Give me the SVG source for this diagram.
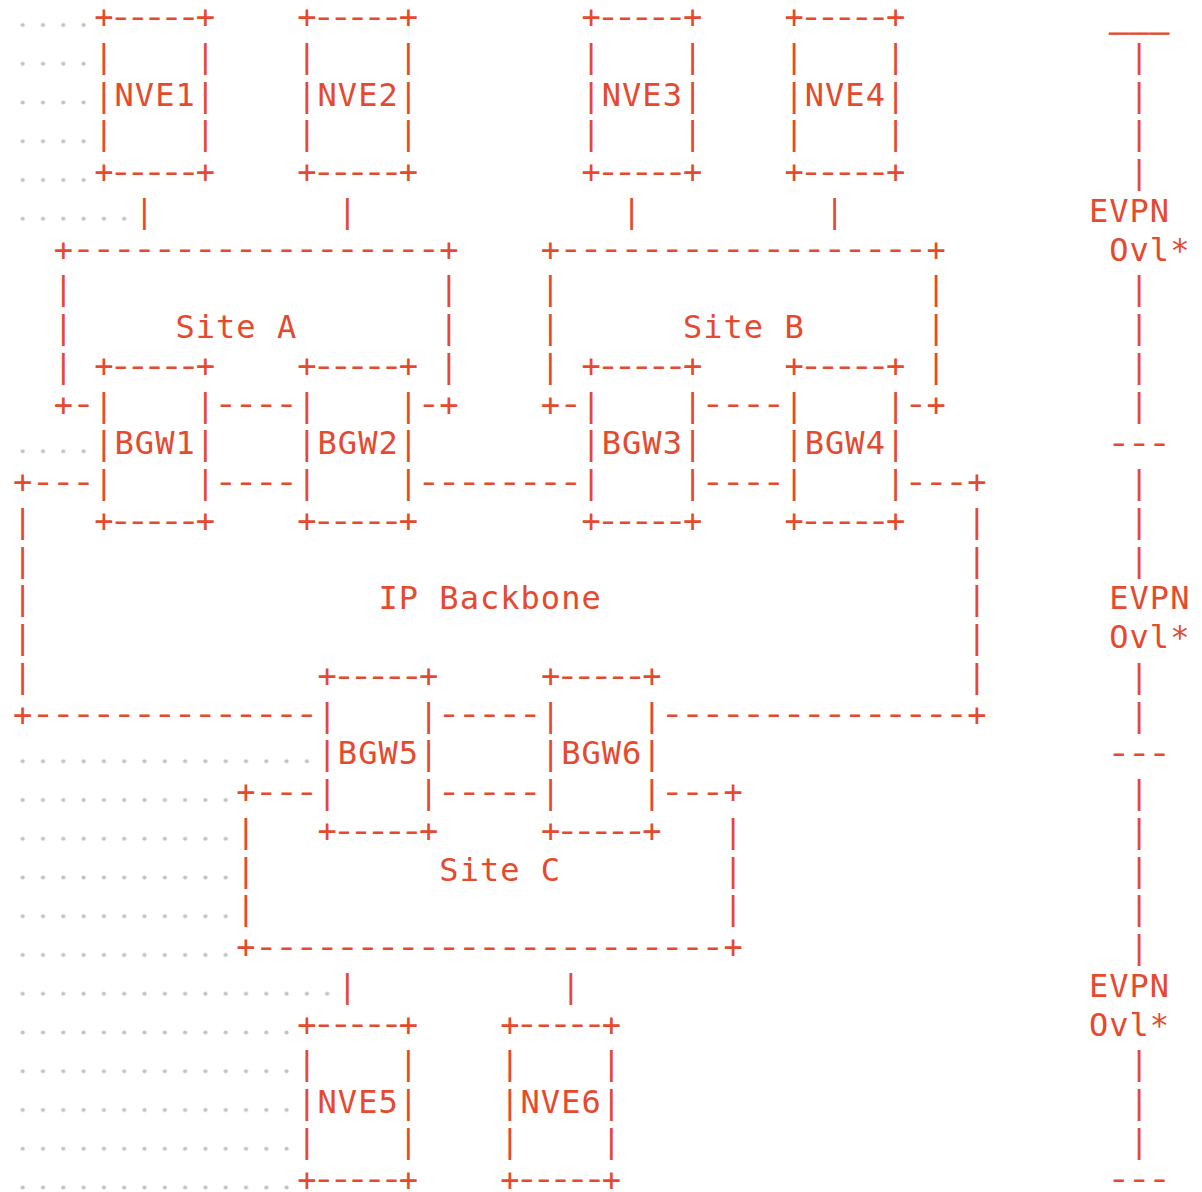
<svg xmlns="http://www.w3.org/2000/svg" width="1202" height="1192" viewBox="0 0 1202 1192">
<style>
text { font-family: "DejaVu Sans Mono", "Liberation Mono", monospace; font-size: 32px; fill: #E5492E; text-anchor: middle; }
text.u { stroke: #E5492E; stroke-width: 1; }
</style>
<defs>
<pattern id="ws" patternUnits="userSpaceOnUse" x="12.55" y="5.625" width="20.3" height="38.75">
<circle cx="10.15" cy="19.375" r="2.1" fill="#c2c2c2"/>
</pattern>
</defs>
<rect width="1202" height="1192" fill="#ffffff"/>
<g id="whitespace" fill="url(#ws)">
<rect x="12.55" y="5.625" width="81.2" height="193.75"/>
<rect x="12.55" y="199.375" width="121.8" height="38.75"/>
<rect x="12.55" y="431.875" width="81.2" height="38.75"/>
<rect x="12.55" y="741.875" width="304.5" height="38.75"/>
<rect x="12.55" y="780.625" width="223.3" height="193.75"/>
<rect x="12.55" y="974.375" width="324.8" height="38.75"/>
<rect x="12.55" y="1013.125" width="284.2" height="193.75"/>
</g>
<g id="NVE1" transform="translate(103.9,0)">
<text x="0 101.5" y="28">++</text>
<text transform="scale(1.25,1)" x="13.536 27.064 40.6 54.136 67.664" y="28">-----</text>
<text x="0 101.5 0 101.5" y="66.75 66.75 144.25 144.25">||||</text>
<text x="0 20.3 40.6 60.9 81.2 101.5" y="105.5">|NVE1|</text>
<text x="0 101.5" y="183">++</text>
<text transform="scale(1.25,1)" x="13.536 27.064 40.6 54.136 67.664" y="183">-----</text>
</g>
<g id="NVE2" transform="translate(306.9,0)">
<text x="0 101.5" y="28">++</text>
<text transform="scale(1.25,1)" x="13.536 27.064 40.6 54.136 67.664" y="28">-----</text>
<text x="0 101.5 0 101.5" y="66.75 66.75 144.25 144.25">||||</text>
<text x="0 20.3 40.6 60.9 81.2 101.5" y="105.5">|NVE2|</text>
<text x="0 101.5" y="183">++</text>
<text transform="scale(1.25,1)" x="13.536 27.064 40.6 54.136 67.664" y="183">-----</text>
</g>
<g id="NVE3" transform="translate(591.1,0)">
<text x="0 101.5" y="28">++</text>
<text transform="scale(1.25,1)" x="13.536 27.064 40.6 54.136 67.664" y="28">-----</text>
<text x="0 101.5 0 101.5" y="66.75 66.75 144.25 144.25">||||</text>
<text x="0 20.3 40.6 60.9 81.2 101.5" y="105.5">|NVE3|</text>
<text x="0 101.5" y="183">++</text>
<text transform="scale(1.25,1)" x="13.536 27.064 40.6 54.136 67.664" y="183">-----</text>
</g>
<g id="NVE4" transform="translate(794.1,0)">
<text x="0 101.5" y="28">++</text>
<text transform="scale(1.25,1)" x="13.536 27.064 40.6 54.136 67.664" y="28">-----</text>
<text x="0 101.5 0 101.5" y="66.75 66.75 144.25 144.25">||||</text>
<text x="0 20.3 40.6 60.9 81.2 101.5" y="105.5">|NVE4|</text>
<text x="0 101.5" y="183">++</text>
<text transform="scale(1.25,1)" x="13.536 27.064 40.6 54.136 67.664" y="183">-----</text>
</g>
<g id="SiteA">
<text x="63.3 449" y="260.5">++</text>
<text transform="scale(1.25,1)" x="66.88 83.12 99.36 115.6 131.84 148.08 164.32 180.56 196.8 213.04 229.28 245.52 261.76 278 294.24 310.48 326.72 342.96" y="260.5">------------------</text>
<text x="63.3 449 63.3 449 63.3 449" y="299.25 299.25 338 338 376.75 376.75">||||||</text>
<text x="185.1 205.4 225.7 246 266.3 286.6" y="338">Site A</text>
<text x="63.3 449" y="415.5">++</text>
<text transform="scale(1.25,1)" x="66.88 342.96" y="415.5">--</text>
</g>
<g id="SiteB">
<text x="550.5 936.2" y="260.5">++</text>
<text transform="scale(1.25,1)" x="456.64 472.88 489.12 505.36 521.6 537.84 554.08 570.32 586.56 602.8 619.04 635.28 651.52 667.76 684 700.24 716.48 732.72" y="260.5">------------------</text>
<text x="550.5 936.2 550.5 936.2 550.5 936.2" y="299.25 299.25 338 338 376.75 376.75">||||||</text>
<text x="692.6 712.9 733.2 753.5 773.8 794.1" y="338">Site B</text>
<text x="550.5 936.2" y="415.5">++</text>
<text transform="scale(1.25,1)" x="456.64 732.72" y="415.5">--</text>
</g>
<g id="BGW1" transform="translate(103.9,0)">
<text x="0 101.5" y="376.75">++</text>
<text transform="scale(1.25,1)" x="13.536 27.064 40.6 54.136 67.664" y="376.75">-----</text>
<text x="0 101.5 0 101.5" y="415.5 415.5 493 493">||||</text>
<text x="0 20.3 40.6 60.9 81.2 101.5" y="454.25">|BGW1|</text>
<text x="0 101.5" y="531.75">++</text>
<text transform="scale(1.25,1)" x="13.536 27.064 40.6 54.136 67.664" y="531.75">-----</text>
</g>
<g id="BGW2" transform="translate(306.9,0)">
<text x="0 101.5" y="376.75">++</text>
<text transform="scale(1.25,1)" x="13.536 27.064 40.6 54.136 67.664" y="376.75">-----</text>
<text x="0 101.5 0 101.5" y="415.5 415.5 493 493">||||</text>
<text x="0 20.3 40.6 60.9 81.2 101.5" y="454.25">|BGW2|</text>
<text x="0 101.5" y="531.75">++</text>
<text transform="scale(1.25,1)" x="13.536 27.064 40.6 54.136 67.664" y="531.75">-----</text>
</g>
<g id="BGW3" transform="translate(591.1,0)">
<text x="0 101.5" y="376.75">++</text>
<text transform="scale(1.25,1)" x="13.536 27.064 40.6 54.136 67.664" y="376.75">-----</text>
<text x="0 101.5 0 101.5" y="415.5 415.5 493 493">||||</text>
<text x="0 20.3 40.6 60.9 81.2 101.5" y="454.25">|BGW3|</text>
<text x="0 101.5" y="531.75">++</text>
<text transform="scale(1.25,1)" x="13.536 27.064 40.6 54.136 67.664" y="531.75">-----</text>
</g>
<g id="BGW4" transform="translate(794.1,0)">
<text x="0 101.5" y="376.75">++</text>
<text transform="scale(1.25,1)" x="13.536 27.064 40.6 54.136 67.664" y="376.75">-----</text>
<text x="0 101.5 0 101.5" y="415.5 415.5 493 493">||||</text>
<text x="0 20.3 40.6 60.9 81.2 101.5" y="454.25">|BGW4|</text>
<text x="0 101.5" y="531.75">++</text>
<text transform="scale(1.25,1)" x="13.536 27.064 40.6 54.136 67.664" y="531.75">-----</text>
</g>
<g id="IPBackbone">
<text x="22.7 976.8" y="493">++</text>
<text transform="scale(1.25,1)" x="34.4 50.64 66.88" y="493">---</text>
<text transform="scale(1.25,1)" x="342.96 359.2 375.44 391.68 407.92 424.16 440.4 456.64" y="493">--------</text>
<text transform="scale(1.25,1)" x="732.72 748.96 765.2" y="493">---</text>
<text x="22.7 976.8 22.7 976.8 22.7 976.8 22.7 976.8 22.7 976.8" y="531.75 531.75 570.5 570.5 609.25 609.25 648 648 686.75 686.75">||||||||||</text>
<text x="388.1 408.4 428.7 449 469.3 489.6 509.9 530.2 550.5 570.8 591.1" y="609.25">IP Backbone</text>
<text x="22.7 976.8" y="725.5">++</text>
<text transform="scale(1.25,1)" x="34.4 50.64 66.88 83.12 99.36 115.6 131.84 148.08 164.32 180.56 196.8 213.04 229.28 245.52" y="725.5">--------------</text>
<text transform="scale(1.25,1)" x="537.84 554.08 570.32 586.56 602.8 619.04 635.28 651.52 667.76 684 700.24 716.48 732.72 748.96 765.2" y="725.5">---------------</text>
</g>
<g id="BGW5" transform="translate(327.2,0)">
<text x="0 101.5" y="686.75">++</text>
<text transform="scale(1.25,1)" x="13.536 27.064 40.6 54.136 67.664" y="686.75">-----</text>
<text x="0 101.5 0 101.5" y="725.5 725.5 803 803">||||</text>
<text x="0 20.3 40.6 60.9 81.2 101.5" y="764.25">|BGW5|</text>
<text x="0 101.5" y="841.75">++</text>
<text transform="scale(1.25,1)" x="13.536 27.064 40.6 54.136 67.664" y="841.75">-----</text>
</g>
<g id="BGW6" transform="translate(550.5,0)">
<text x="0 101.5" y="686.75">++</text>
<text transform="scale(1.25,1)" x="13.536 27.064 40.6 54.136 67.664" y="686.75">-----</text>
<text x="0 101.5 0 101.5" y="725.5 725.5 803 803">||||</text>
<text x="0 20.3 40.6 60.9 81.2 101.5" y="764.25">|BGW6|</text>
<text x="0 101.5" y="841.75">++</text>
<text transform="scale(1.25,1)" x="13.536 27.064 40.6 54.136 67.664" y="841.75">-----</text>
</g>
<g id="SiteC">
<text x="246 733.2" y="803">++</text>
<text transform="scale(1.25,1)" x="213.04 229.28 245.52" y="803">---</text>
<text transform="scale(1.25,1)" x="537.84 554.08 570.32" y="803">---</text>
<text x="246 733.2 246 733.2 246 733.2" y="841.75 841.75 880.5 880.5 919.25 919.25">||||||</text>
<text x="449 469.3 489.6 509.9 530.2 550.5" y="880.5">Site C</text>
<text x="246 733.2" y="958">++</text>
<text transform="scale(1.25,1)" x="213.04 229.28 245.52 261.76 278 294.24 310.48 326.72 342.96 359.2 375.44 391.68 407.92 424.16 440.4 456.64 472.88 489.12 505.36 521.6 537.84 554.08 570.32" y="958">-----------------------</text>
</g>
<g id="NVE5" transform="translate(306.9,0)">
<text x="0 101.5" y="1035.5">++</text>
<text transform="scale(1.25,1)" x="13.536 27.064 40.6 54.136 67.664" y="1035.5">-----</text>
<text x="0 101.5 0 101.5" y="1074.25 1074.25 1151.75 1151.75">||||</text>
<text x="0 20.3 40.6 60.9 81.2 101.5" y="1113">|NVE5|</text>
<text x="0 101.5" y="1190.5">++</text>
<text transform="scale(1.25,1)" x="13.536 27.064 40.6 54.136 67.664" y="1190.5">-----</text>
</g>
<g id="NVE6" transform="translate(509.9,0)">
<text x="0 101.5" y="1035.5">++</text>
<text transform="scale(1.25,1)" x="13.536 27.064 40.6 54.136 67.664" y="1035.5">-----</text>
<text x="0 101.5 0 101.5" y="1074.25 1074.25 1151.75 1151.75">||||</text>
<text x="0 20.3 40.6 60.9 81.2 101.5" y="1113">|NVE6|</text>
<text x="0 101.5" y="1190.5">++</text>
<text transform="scale(1.25,1)" x="13.536 27.064 40.6 54.136 67.664" y="1190.5">-----</text>
</g>
<g id="connectors">
<text x="144.5 347.5 631.7 834.7" y="221.75">||||</text>
<text transform="scale(1.25,1)" x="180.56 196.8 213.04 229.28" y="415.5">----</text>
<text transform="scale(1.25,1)" x="570.32 586.56 602.8 619.04" y="415.5">----</text>
<text transform="scale(1.25,1)" x="180.56 196.8 213.04 229.28" y="493">----</text>
<text transform="scale(1.25,1)" x="570.32 586.56 602.8 619.04" y="493">----</text>
<text transform="scale(1.25,1)" x="359.2 375.44 391.68 407.92 424.16" y="725.5">-----</text>
<text transform="scale(1.25,1)" x="359.2 375.44 391.68 407.92 424.16" y="803">-----</text>
<text x="347.5 570.8" y="996.75">||</text>
</g>
<g id="overlay-scale">
<text class="u" x="1118.9 1139.2 1159.5" y="27">___</text>
<text x="1139.2 1139.2 1139.2 1139.2" y="66.75 105.5 144.25 183">||||</text>
<text x="1098.6 1118.9 1139.2 1159.5" y="221.75">EVPN</text>
<text x="1118.9 1139.2 1159.5 1179.8" y="260.5">Ovl*</text>
<text x="1139.2 1139.2 1139.2 1139.2" y="299.25 338 376.75 415.5">||||</text>
<text transform="scale(1.25,1)" x="895.12 911.36 927.6" y="454.25">---</text>
<text x="1139.2 1139.2 1139.2" y="493 531.75 570.5">|||</text>
<text x="1118.9 1139.2 1159.5 1179.8" y="609.25">EVPN</text>
<text x="1118.9 1139.2 1159.5 1179.8" y="648">Ovl*</text>
<text x="1139.2 1139.2" y="686.75 725.5">||</text>
<text transform="scale(1.25,1)" x="895.12 911.36 927.6" y="764.25">---</text>
<text x="1139.2 1139.2 1139.2 1139.2 1139.2" y="803 841.75 880.5 919.25 958">|||||</text>
<text x="1098.6 1118.9 1139.2 1159.5" y="996.75">EVPN</text>
<text x="1098.6 1118.9 1139.2 1159.5" y="1035.5">Ovl*</text>
<text x="1139.2 1139.2 1139.2" y="1074.25 1113 1151.75">|||</text>
<text transform="scale(1.25,1)" x="895.12 911.36 927.6" y="1190.5">---</text>
</g>
</svg>
